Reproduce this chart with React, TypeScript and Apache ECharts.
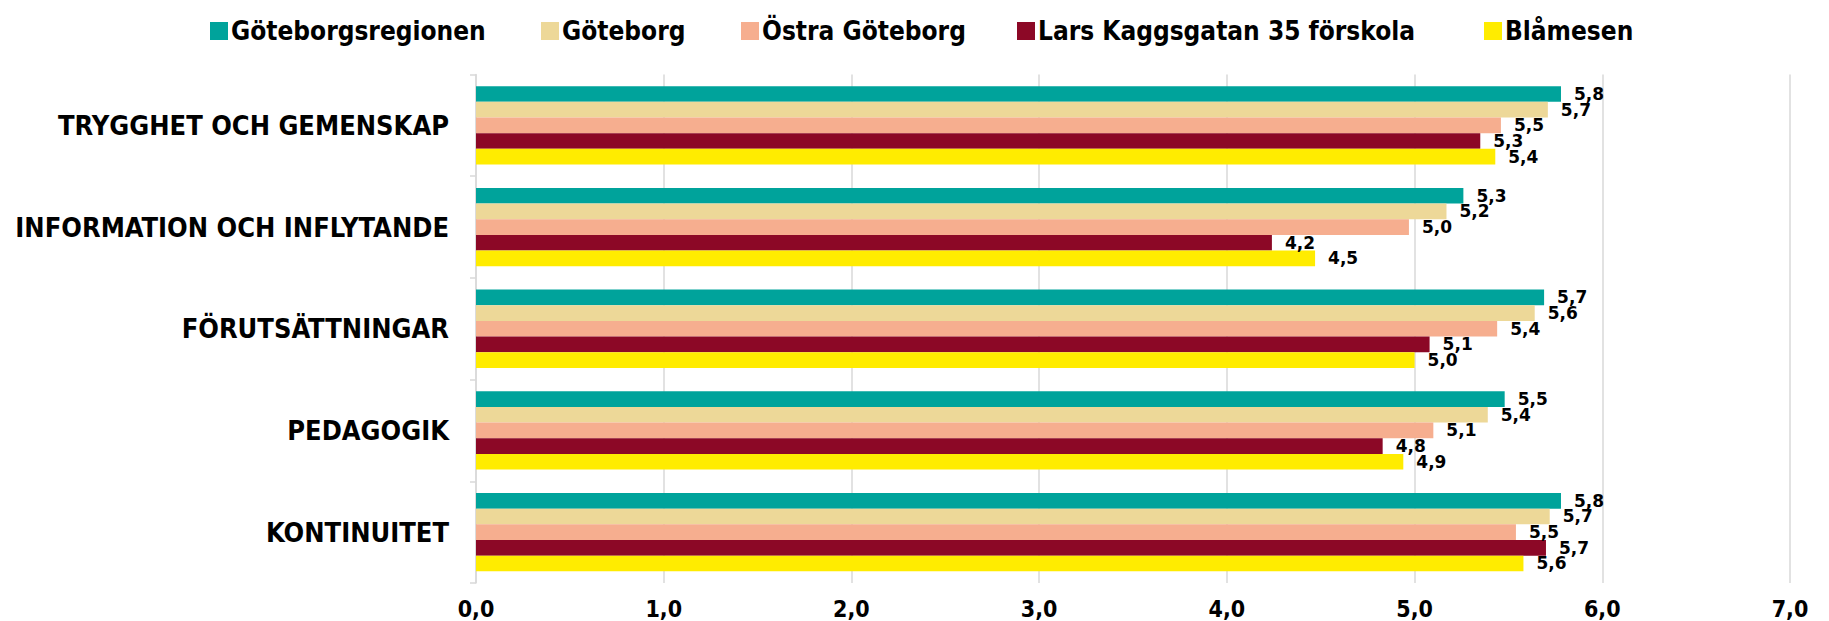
import React, { useEffect, useRef } from "react";
import * as echarts from "echarts";

const categories = [
  "TRYGGHET OCH GEMENSKAP",
  "INFORMATION OCH INFLYTANDE",
  "FÖRUTSÄTTNINGAR",
  "PEDAGOGIK",
  "KONTINUITET",
];

const seriesNames = [
  "Göteborgsregionen",
  "Göteborg",
  "Östra Göteborg",
  "Lars Kaggsgatan 35 förskola",
  "Blåmesen",
];

const goteborgsregionen = [5.78, 5.26, 5.69, 5.48, 5.78];
const goteborg = [5.71, 5.17, 5.64, 5.39, 5.72];
const ostraGoteborg = [5.46, 4.97, 5.44, 5.1, 5.54];
const larsKaggsgatan = [5.35, 4.24, 5.08, 4.83, 5.7];
const blamesen = [5.43, 4.47, 5.0, 4.94, 5.58];

const xTicks = [0, 1, 2, 3, 4, 5, 6, 7];

const colors = ["#00A39B", "#EDD898", "#F6AE8F", "#8C0826", "#FFEC00"];
const legendLeft = [205, 536, 736, 1012, 1479];

const COND = '"DejaVu Sans Condensed", "DejaVu Sans", sans-serif';

const fmt = (v: number) => v.toFixed(1).replace(".", ",");

export default function App() {
  const ref = useRef<HTMLDivElement>(null);
  useEffect(() => {
    document.body.style.margin = "0";
    if (!ref.current) return;
    const chart = echarts.init(ref.current, undefined, { renderer: "svg" });
    const values = [goteborgsregionen, goteborg, ostraGoteborg, larsKaggsgatan, blamesen];
    chart.setOption({
      animation: false,
      backgroundColor: "#ffffff",
      legend: seriesNames.map((n, i) => ({
        data: [n],
        left: legendLeft[i],
        top: 13,
        itemWidth: 18,
        itemHeight: 18,
        itemGap: 0,
        selectedMode: false,
        icon: "rect",
        textStyle: {
          fontFamily: COND,
          fontWeight: "bold",
          fontSize: 26,
          color: "#000",
          padding: [0, 0, 0, -2],
        },
      })),
      grid: { left: 476, right: 39, top: 74.5, bottom: 38, containLabel: false },
      xAxis: {
        type: "value",
        min: xTicks[0],
        max: xTicks[xTicks.length - 1],
        interval: 1,
        axisLine: { show: false },
        axisTick: { show: false },
        splitLine: { show: true, lineStyle: { color: "#e2e2e2", width: 2 } },
        axisLabel: {
          formatter: (v: number) => fmt(v),
          fontFamily: COND,
          fontWeight: "bold",
          fontSize: 23,
          color: "#000",
          margin: 14,
        },
      },
      yAxis: {
        type: "category",
        data: categories,
        inverse: true,
        axisLine: { show: true, lineStyle: { color: "#d9d9d9", width: 1.5 } },
        axisTick: { show: true, length: 6, lineStyle: { color: "#d9d9d9", width: 1.5 } },
        axisLabel: {
          fontFamily: COND,
          fontWeight: "bold",
          fontSize: 27,
          color: "#000",
          margin: 27,
        },
      },
      series: seriesNames.map((n, i) => ({
        name: n,
        type: "bar",
        data: values[i],
        barGap: "0%",
        barCategoryGap: "23%",
        itemStyle: { color: colors[i] },
        label: {
          show: true,
          position: "right",
          distance: 13,
          formatter: (p: any) => fmt(p.value),
          fontFamily: '"DejaVu Sans", sans-serif',
          fontWeight: "bold",
          fontSize: 17,
          color: "#000",
        },
      })),
    });
    return () => chart.dispose();
  }, []);
  return (
    <div
      ref={ref}
      style={{ position: "absolute", left: 0, top: 0, width: 1829, height: 621 }}
    />
  );
}
